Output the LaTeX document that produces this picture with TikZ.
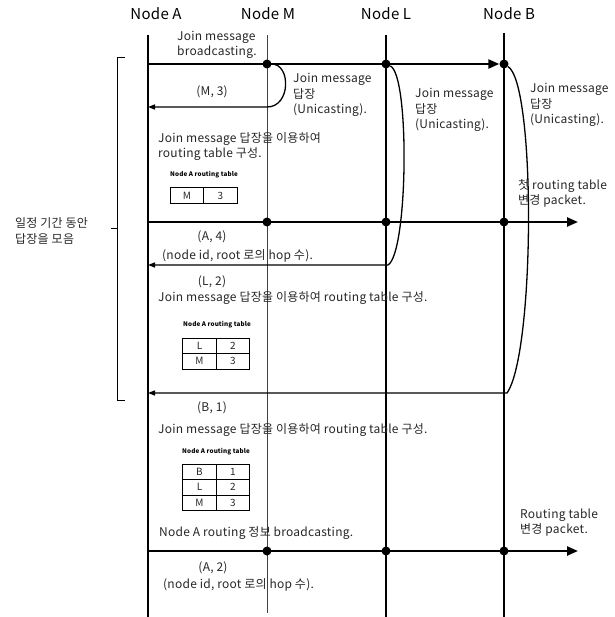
\documentclass[tikz,border=0pt]{standalone}
\usepackage{fontspec}
\setmainfont[LetterSpace=2]{Noto Sans CJK KR}
\usepackage{tikz}
\usetikzlibrary{arrows.meta,positioning}

\begin{document}
\begin{tikzpicture}[
            x=1pt, y=-1pt,
            lifeline/.style={line width=1.7pt},
            thinline/.style={line width=0.9pt, black!75},
            msg/.style={line width=2.3pt, -{Triangle[length=11pt,width=9pt]}},
            reply/.style={line width=1.3pt, -{Triangle[length=7pt,width=5pt]}},
            dot/.style={circle, fill, inner sep=0pt, minimum size=9pt},
            header/.style={font=\fontsize{15}{17}\selectfont},
            lbl/.style={align=left, inner sep=0pt, text=black!85, font=\fontsize{12}{15.5}\selectfont},
            tbltitle/.style={inner sep=0pt, font=\bfseries\fontsize{6.3}{7}\selectfont},
            cell/.style={draw, line width=1pt, outer sep=0pt, inner sep=0pt, minimum width=33.5pt, minimum height=15.5pt, text=black!85, font=\fontsize{10}{12}\selectfont}
        ]
            \useasboundingbox (0,0) rectangle (614,617);

            \node[header] (hdrA) at (156,14) {Node A};
            \node[header] (hdrM) at (268,14) {Node M};
            \node[header] (hdrL) at (386,14) {Node L};
            \node[header] (hdrB) at (509,14) {Node B};

            \coordinate (topA) at (148,35);
            \coordinate (botA) at (148,617);
            \coordinate (topM) at (267,35);
            \coordinate (botM) at (267,613);
            \coordinate (topL) at (386,35);
            \coordinate (botL) at (386,617);
            \coordinate (topB) at (504,33);
            \coordinate (botB) at (504,617);
            \draw[lifeline] (topA) -- (botA);
            \draw[thinline] (topM) -- (botM);
            \draw[lifeline] (topL) -- (botL);
            \draw[lifeline] (topB) -- (botB);

            \node[dot] (dM1) at (267,64) {};
            \node[dot] (dL1) at (386,64) {};
            \node[dot] (dB1) at (504,64) {};
            \node[dot] (dM2) at (267,222) {};
            \node[dot] (dL2) at (386,222) {};
            \node[dot] (dB2) at (504,222) {};
            \node[dot] (dM3) at (267,551) {};
            \node[dot] (dL3) at (386,551) {};
            \node[dot] (dB3) at (504,551) {};

            \coordinate (joinA) at (148,64);
            \coordinate (firstA) at (148,222);
            \coordinate (firstEnd) at (578,222);
            \coordinate (bcastA) at (148,551);
            \coordinate (bcastEnd) at (578,551);
            \draw[msg] (joinA) -- (dB1);
            \draw[msg] (firstA) -- (firstEnd);
            \draw[msg] (bcastA) -- (bcastEnd);

            \coordinate (backM) at (267,107);
            \coordinate (backMA) at (148,107);
            \coordinate (backL) at (388,265);
            \coordinate (backLA) at (148,265);
            \coordinate (backB) at (507,393);
            \coordinate (backBA) at (148,393);
            \draw[reply] (dM1) .. controls +(24,0) and +(24,0) .. (backM) -- (backMA);
            \draw[reply] (dL1) .. controls +(24,11) and +(20,-12) .. (backL) -- (backLA);
            \draw[reply] (dB1) .. controls +(32,20) and +(28,-40) .. (backB) -- (backBA);

            \draw[line width=0.9pt] (125,57) -- (117,57) -- (117,400) -- (125,400);
            \draw[line width=0.9pt] (117,228) -- (111,228);
            \node[lbl, anchor=west] (collect) at (15,231) {일정 기간 동안\\답장을 모음};

            \node[lbl, anchor=west] (joinTxt) at (177,45) {Join message\\broadcasting.};
            \node[lbl, anchor=center] (mPair) at (212,92) {(M, 3)};
            \node[lbl, anchor=west] (mReply) at (293,95) {Join message\\답장\\(Unicasting).};
            \node[lbl, anchor=west] (lReply) at (415,110) {Join message\\답장\\(Unicasting).};
            \node[lbl, anchor=west] (bReply) at (530,105) {Join message\\답장\\(Unicasting).};

            \node[lbl, anchor=west] (build1) at (158,146.5) {Join message 답장을 이용하여\\routing table 구성.};
            \node[tbltitle] (title1) at (204,175) {Node A routing table};
            \node[cell] (t1M) at (187,195.5) {M};
            \node[cell, right=0pt of t1M] (t1Mh) {3};
            \node[lbl, anchor=west] (firstTxt) at (518,193.5) {첫 routing table\\변경 packet.};

            \node[lbl, anchor=center] (aPair) at (212,237) {(A, 4)};
            \node[lbl, anchor=west] (hopTxt1) at (162,256) {(node id, root 로의 hop 수).};

            \node[lbl, anchor=center] (lPair) at (212,282) {(L, 2)};
            \node[lbl, anchor=west] (build2) at (158,298) {Join message 답장을 이용하여 routing table 구성.};
            \node[tbltitle] (title2) at (217,325) {Node A routing table};
            \node[cell] (t2L) at (199.5,345.75) {L};
            \node[cell, right=0pt of t2L] (t2Lh) {2};
            \node[cell, below=0pt of t2L] (t2M) {M};
            \node[cell, right=0pt of t2M] (t2Mh) {3};

            \node[lbl, anchor=center] (bPair) at (212,408) {(B, 1)};
            \node[lbl, anchor=west] (build3) at (158,430) {Join message 답장을 이용하여 routing table 구성.};
            \node[tbltitle] (title3) at (216,452) {Node A routing table};
            \node[cell] (t3B) at (199.5,471.75) {B};
            \node[cell, right=0pt of t3B] (t3Bh) {1};
            \node[cell, below=0pt of t3B] (t3L) {L};
            \node[cell, right=0pt of t3L] (t3Lh) {2};
            \node[cell, below=0pt of t3L] (t3M) {M};
            \node[cell, right=0pt of t3M] (t3Mh) {3};

            \node[lbl, anchor=west] (bcastTxt) at (159,533) {Node A routing 정보 broadcasting.};
            \node[lbl, anchor=west] (changeTxt) at (520,522.5) {Routing table\\변경 packet.};
            \node[lbl, anchor=center] (aPair2) at (213,568) {(A, 2)};
            \node[lbl, anchor=west] (hopTxt2) at (163,585) {(node id, root 로의 hop 수).};
        \end{tikzpicture}
\end{document}
